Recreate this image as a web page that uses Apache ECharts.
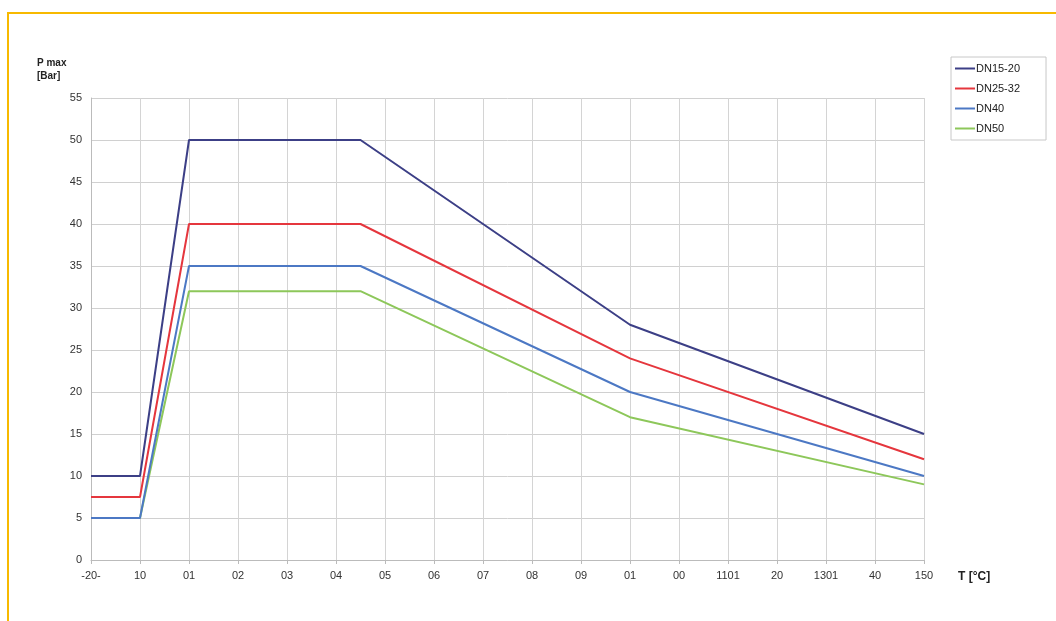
<!DOCTYPE html>
<html><head><meta charset="utf-8">
<script src="https://cdn.jsdelivr.net/npm/echarts@6/dist/echarts.min.js"></script>
<style>
html,body{margin:0;padding:0;background:#fff;}
#frame{position:absolute;left:7px;top:12px;width:1100px;height:700px;border-top:2px solid #f7b900;border-left:2px solid #f7b900;}
#c{position:absolute;left:0;top:0;width:1056px;height:621px;}
</style></head>
<body>
<div id="frame"></div>
<div id="c"></div>
<script>
const xLabels = ['-20-','10','01','02','03','04','05','06','07','08','09','01','00','1101','20','1301','40','150'];
const xPos = [0, 1, 2, 5.5, 11, 17];
const seriesNames = ['DN15-20','DN25-32','DN40','DN50'];
const dn1520 = [10, 10, 50, 50, 28, 15];
const dn2532 = [7.5, 7.5, 40, 40, 24, 12];
const dn40 = [5, 5, 35, 35, 20, 10];
const dn50 = [5, 5, 32, 32, 17, 9];
const colors = ['#3c3f86','#e5363d','#4c78c4','#8dc75a'];
const values = [dn1520, dn2532, dn40, dn50];
const yTitle = 'P max\n[Bar]';
const xTitle = 'T [°C]';

const chart = echarts.init(document.getElementById('c'));
const majors = xLabels.map((_, i) => i);
chart.setOption({
  animation: false,
  textStyle: { fontFamily: 'Liberation Sans, Arial, sans-serif' },
  grid: { left: 91, right: 132, top: 98, bottom: 61, containLabel: false },
  graphic: [{
    type: 'text', left: 37, top: 57,
    style: { text: yTitle, fontSize: 10, fontWeight: 'bold', fill: '#222', lineHeight: 13,
             fontFamily: 'Liberation Sans, Arial, sans-serif', align: 'left' }
  }],
  legend: {
    orient: 'vertical', left: 951, top: 57,
    data: seriesNames,
    itemWidth: 20, itemHeight: 2, itemGap: 9,
    icon: 'rect',
    borderColor: '#c8c8c8', borderWidth: 1, padding: [6, 26, 6, 4],
    textStyle: { fontSize: 11, color: '#222', padding: [0, 0, 0, -4] }
  },
  xAxis: {
    type: 'value', min: 0, max: 17, interval: 0.5,
    name: xTitle, nameLocation: 'end', nameGap: 34,
    nameTextStyle: { fontSize: 12, fontWeight: 'bold', color: '#222', verticalAlign: 'top', padding: [11, 0, 0, 0] },
    axisLine: { show: true, lineStyle: { color: '#bbb' } },
    axisTick: { show: true, customValues: majors, length: 4, lineStyle: { color: '#bbb' } },
    axisLabel: {
      customValues: majors, fontSize: 11, color: '#333', margin: 10,
      formatter: v => xLabels[Math.round(v)]
    },
    splitLine: { show: true, lineStyle: { color: '#d4d4d4', width: 1 } }
  },
  yAxis: {
    type: 'value', min: 0, max: 55, interval: 5,
    axisLine: { show: true, lineStyle: { color: '#bbb' } },
    axisTick: { show: false },
    axisLabel: { fontSize: 11, color: '#333', margin: 9 },
    splitLine: { show: true, lineStyle: { color: '#d0d0d0', width: 1 } }
  },
  series: seriesNames.map((n, k) => ({
    name: n, type: 'line', symbol: 'none',
    data: xPos.map((x, i) => [x, values[k][i]]),
    lineStyle: { color: colors[k], width: 2 },
    itemStyle: { color: colors[k] },
    z: 10 - k
  }))
});
</script>
</body></html>
